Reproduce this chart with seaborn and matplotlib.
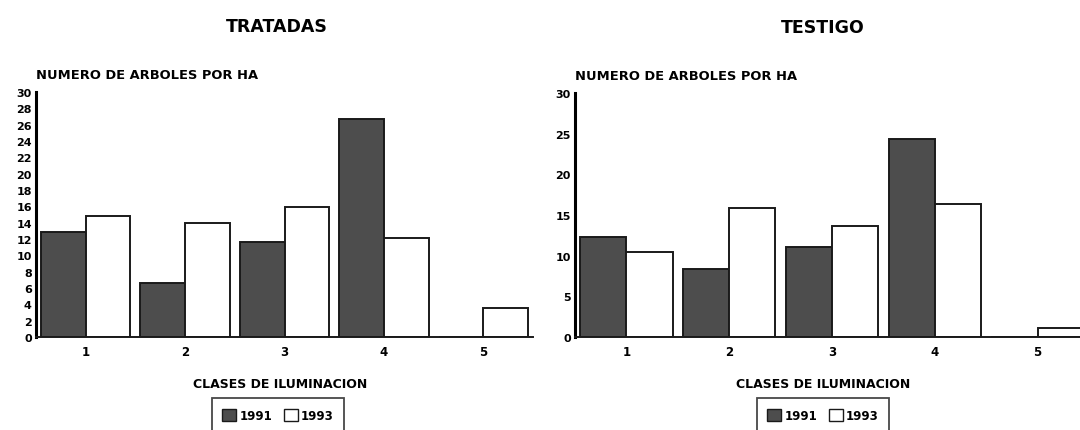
import matplotlib
matplotlib.use("Agg")
import matplotlib.pyplot as plt
import seaborn as sns
import pandas as pd
from matplotlib.patches import Patch

categories = ["1", "2", "3", "4", "5"]
years = ["1991", "1993"]
tratadas_1991 = [12.9, 6.6, 11.6, 26.7, 0.0]
tratadas_1993 = [14.8, 14.0, 15.9, 12.1, 3.6]
testigo_1991 = [12.3, 8.3, 11.1, 24.4, 0.0]
testigo_1993 = [10.4, 15.9, 13.6, 16.3, 1.1]
panel_titles = ["TRATADAS", "TESTIGO"]
ylabel = "NUMERO DE ARBOLES POR HA"
xlabel = "CLASES DE ILUMINACION"

sns.set_theme(style="white")
plt.rcParams["font.family"] = ["DejaVu Sans"]
plt.rcParams["font.weight"] = "bold"
plt.rcParams["text.color"] = "black"
plt.rcParams["xtick.color"] = "black"
plt.rcParams["ytick.color"] = "black"

dark = "#4d4d4d"
edge = "#1a1a1a"
palette = {"1991": dark, "1993": "white"}

def make_df(v91, v93):
    return pd.DataFrame({
        "clase": categories * 2,
        "year": [years[0]] * len(categories) + [years[1]] * len(categories),
        "valor": list(v91) + list(v93),
    })

fig = plt.figure(figsize=(10.8, 4.31), dpi=100)
W, H = 1080, 431
ax1 = fig.add_axes([36 / W, (H - 338) / H, 497 / W, 245 / H])
ax2 = fig.add_axes([575 / W, (H - 338) / H, 514 / W, 244 / H])

panels = [
    (ax1, make_df(tratadas_1991, tratadas_1993), list(range(0, 31, 2))),
    (ax2, make_df(testigo_1991, testigo_1993), list(range(0, 31, 5))),
]

for ax, df, yticks in panels:
    sns.barplot(data=df, x="clase", y="valor", hue="year", palette=palette,
                width=0.9, edgecolor=edge, linewidth=1.4, ax=ax,
                legend=False, saturation=1)
    ax.set_xlim(-0.5, 4.5)
    ax.set_ylim(0, 30)
    ax.set_yticks(yticks)
    ax.set_yticklabels([str(t) for t in yticks], fontsize=8, fontweight="bold")
    ax.tick_params(axis="both", length=0, pad=3)
    ax.tick_params(axis="x", pad=6)
    for lab in ax.get_xticklabels():
        lab.set_fontsize(8.5)
        lab.set_fontweight("bold")
    ax.set_xlabel("")
    ax.set_ylabel("")
    for s in ["top", "right"]:
        ax.spines[s].set_visible(False)
    ax.spines["left"].set_linewidth(2.2)
    ax.spines["left"].set_color("black")
    ax.spines["bottom"].set_linewidth(1.4)
    ax.spines["bottom"].set_color(edge)
    ax.text(0.0, 1.045, ylabel, transform=ax.transAxes, ha="left", va="bottom",
            fontsize=9.4, fontweight="bold")

fig.text(277 / W, 1 - 27 / H, panel_titles[0], ha="center", va="center",
         fontsize=12.5, fontweight="bold")
fig.text(823 / W, 1 - 28 / H, panel_titles[1], ha="center", va="center",
         fontsize=12.5, fontweight="bold")
fig.text(280 / W, 1 - 385 / H, xlabel, ha="center", va="center",
         fontsize=9, fontweight="bold")
fig.text(823 / W, 1 - 385 / H, xlabel, ha="center", va="center",
         fontsize=9, fontweight="bold")

handles = [Patch(facecolor=dark, edgecolor=edge, linewidth=1.0, label=years[0]),
           Patch(facecolor="white", edgecolor=edge, linewidth=1.0, label=years[1])]
for cx in [278, 823]:
    leg = fig.legend(handles=handles, loc="upper center",
                     bbox_to_anchor=(cx / W, 1 - 399 / H), ncol=2,
                     frameon=True, fancybox=False, fontsize=8.5,
                     handlelength=1.2, handleheight=1.2, handletextpad=0.25,
                     columnspacing=1.0, borderpad=0.9, borderaxespad=0)
    leg.get_frame().set_edgecolor(edge)
    leg.get_frame().set_linewidth(1.3)
    for t in leg.get_texts():
        t.set_fontweight("bold")

fig.savefig("out.png", dpi=100)
